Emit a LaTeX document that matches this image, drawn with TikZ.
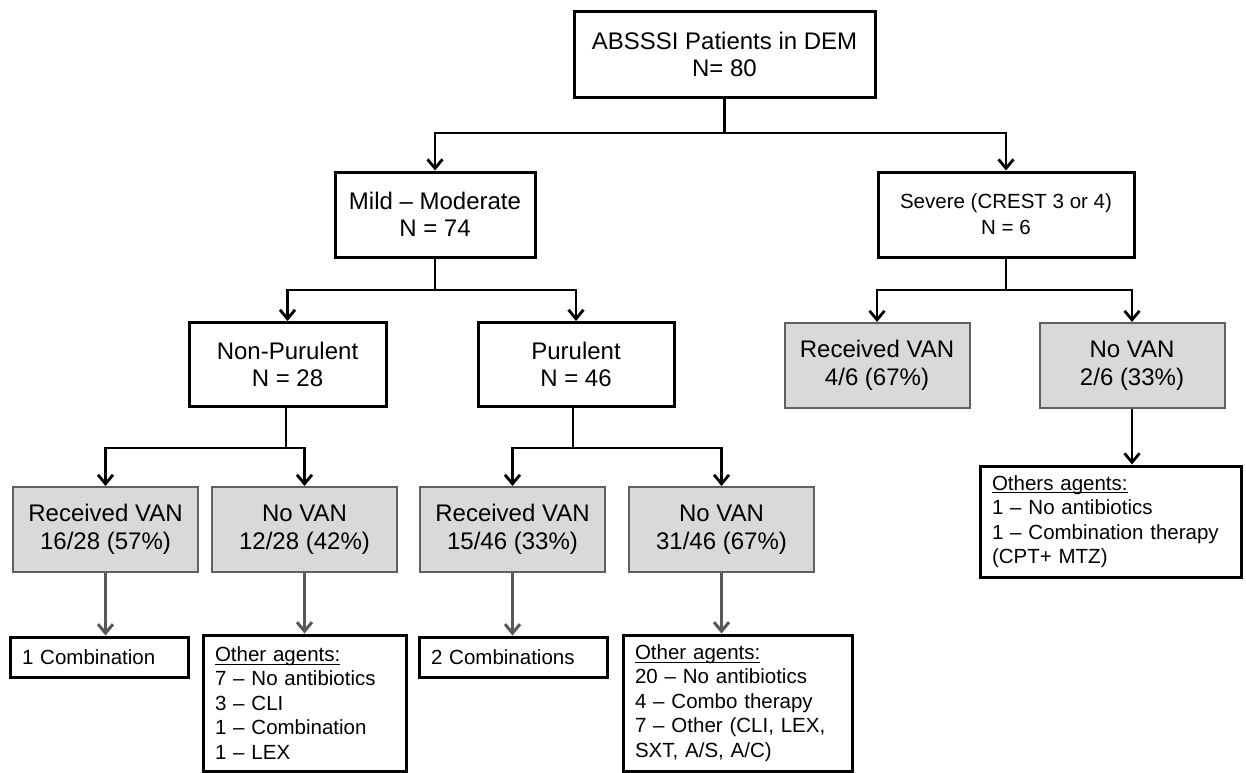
\documentclass[tikz,border=0pt]{standalone}
\usepackage{fontspec}
\setmainfont{Liberation Sans}
\usetikzlibrary{arrows.meta,calc}
\definecolor{gfill}{HTML}{D9D9D9}
\definecolor{gborder}{HTML}{606060}
\definecolor{gline}{HTML}{595959}
\newcommand\myul[1]{\setbox0\hbox{#1}\rlap{\vrule height -2.2pt depth 3.4pt width \wd0}\box0}
\begin{document}
\begin{tikzpicture}[x=1pt,y=-1pt,
  wbox/.style={draw=black, line width=3pt, fill=white, align=center, inner sep=0pt, font=\fontsize{24}{27}\selectfont},
  gbox/.style={draw=gborder, line width=2pt, fill=gfill, align=center, inner sep=0pt, minimum width=185pt, minimum height=85pt, font=\fontsize{24}{28}\selectfont},
  lbox/.style={draw=black, line width=3pt, fill=white, align=left, inner ysep=0pt, inner xsep=12pt, font=\fontsize{20.5}{24.5}\selectfont},
  conn/.style={line width=2.8pt, black},
  arr/.style={conn, -{Straight Barb[length=9pt,width=15pt]}},
  garr/.style={line width=3pt, gline, -{Straight Barb[length=9pt,width=15pt]}},
]
\useasboundingbox (0,0) rectangle (1246,772);

% level 0
\node[wbox, minimum width=301pt, minimum height=86pt] (top) at (724.5,54) {ABSSSI Patients in DEM\\N= 80};

% level 1
\node[wbox, minimum width=200pt, minimum height=85pt] (mild) at (435,214.5) {Mild – Moderate\\N = 74};
\node[wbox, minimum width=256pt, minimum height=85pt, font=\fontsize{20.5}{26}\selectfont] (sev) at (1006,214.5) {Severe (CREST 3 or 4)\\N = 6};

% level 2
\node[wbox, minimum width=197pt, minimum height=84pt] (np) at (287.5,364.5) {Non-Purulent\\N = 28};
\node[wbox, minimum width=196pt, minimum height=84pt] (pur) at (576,364.5) {Purulent\\N = 46};
\node[gbox] (sRV) at (877,365.5) {Received VAN\\4/6 (67\%)};
\node[gbox] (sNV) at (1132,365.5) {No VAN\\2/6 (33\%)};

% level 3
\node[gbox] (npRV) at (105.5,529.5) {Received VAN\\16/28 (57\%)};
\node[gbox] (npNV) at (304.5,529.5) {No VAN\\12/28 (42\%)};
\node[gbox] (pRV) at (512.5,529.5) {Received VAN\\15/46 (33\%)};
\node[gbox] (pNV) at (721.5,529.5) {No VAN\\31/46 (67\%)};

% level 4
\node[lbox, minimum height=40pt, text width=154pt] (c1) at (99,657) {1 Combination};
\node[lbox, minimum height=136pt, text width=179pt] (oa1) at (304.5,703) {\myul{Other agents:}\\7 – No antibiotics\\3 – CLI\\1 – Combination\\1 – LEX};
\node[lbox, minimum height=40pt, text width=164pt] (c2) at (513,657) {2 Combinations};
\node[lbox, minimum height=136pt, text width=205pt] (oa2) at (737.5,703) {\myul{Other agents:}\\20 – No antibiotics\\4 – Combo therapy\\7 – Other (CLI, LEX,\\SXT, A/S, A/C)};
\node[lbox, minimum height=111pt, text width=237pt] (oa3) at (1110.5,521.5) {\myul{Others agents:}\\1 – No antibiotics\\1 – Combination therapy\\(CPT+ MTZ)};

% junctions
\coordinate (j0) at (top.south |- 0,133);
\coordinate (j1) at (mild.south |- 0,290);
\coordinate (j2) at (sev.south |- 0,290);
\coordinate (j3) at (286,448);
\coordinate (j4) at (573,448);

\draw[conn] (top.south) -- (j0);
\draw[arr] (j0) -| (mild.north);
\draw[arr] (j0) -| (sev.north);

\draw[conn] (mild.south) -- (j1);
\draw[arr] (j1) -| (np.north);
\draw[arr] (j1) -| (pur.north);

\draw[conn] (sev.south) -- (j2);
\draw[arr] (j2) -| (sRV.north);
\draw[arr] (j2) -| (sNV.north);

\draw[conn] (np.south -| j3) -- (j3);
\draw[arr] (j3) -| (npRV.north);
\draw[arr] (j3) -| (npNV.north);

\draw[conn] (pur.south -| j4) -- (j4);
\draw[arr] (j4) -| (pRV.north);
\draw[arr] (j4) -| (pNV.north);

\draw[garr] (npRV.south) -- (npRV.south |- c1.north);
\draw[garr] (npNV.south) -- (npNV.south |- oa1.north);
\draw[garr] (pRV.south) -- (pRV.south |- c2.north);
\draw[garr] (pNV.south) -- (pNV.south |- oa2.north);
\draw[arr] (sNV.south) -- (sNV.south |- oa3.north);
\end{tikzpicture}
\end{document}
